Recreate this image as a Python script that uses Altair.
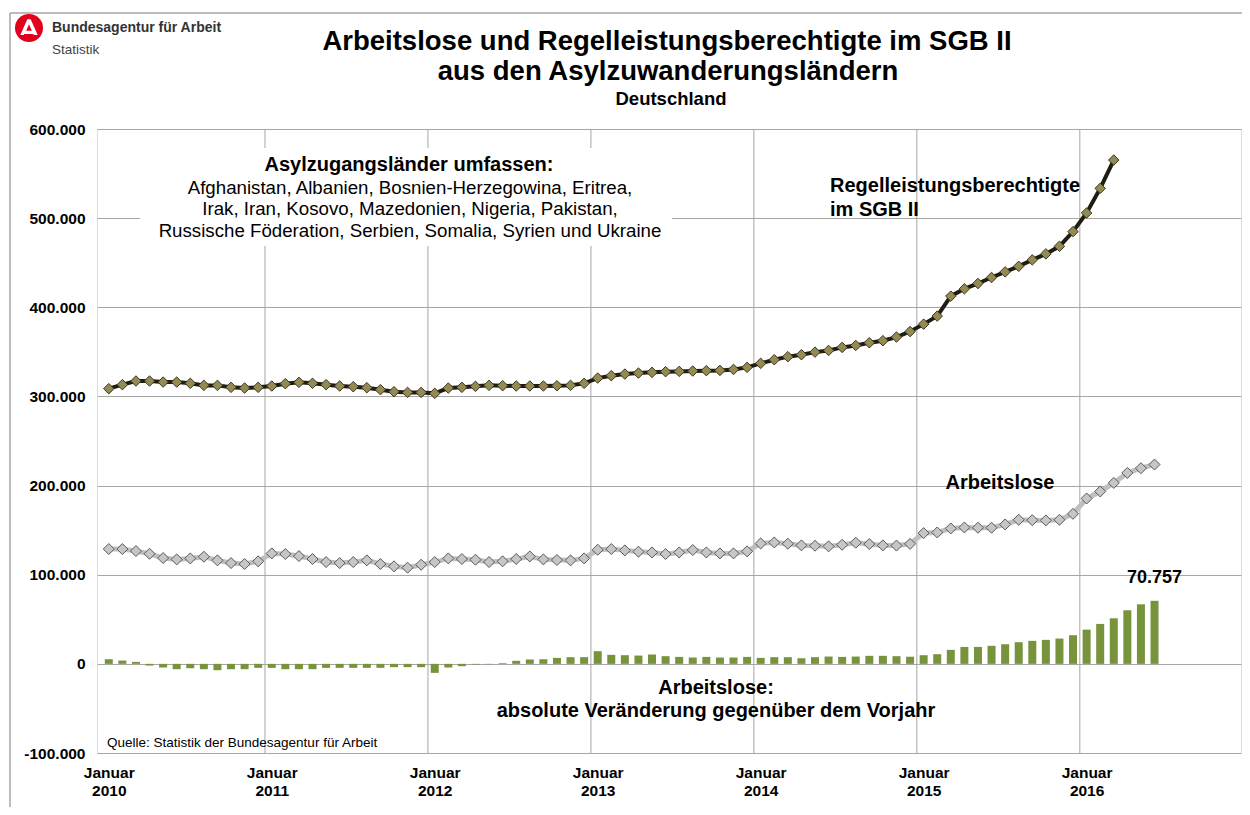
import altair as alt
import pandas as pd

FONT = "Liberation Sans"

# ---------------- data (values in thousands) ----------------
# month index 0 = Januar 2010 ... 77 = Juni 2016
regel_k = [
    308.7, 313.2, 317.3, 317.3, 316.1, 316.1, 314.7, 312.4, 312.4, 310.2, 309.4, 310.2,   # 2010
    311.7, 314.3, 315.8, 314.7, 313.2, 311.7, 310.9, 309.8, 307.6, 305.3, 304.5, 304.5,   # 2011
    303.5, 309.4, 310.2, 311.3, 312.4, 312.0, 311.7, 311.7, 311.7, 312.0, 312.4, 314.7,   # 2012
    320.6, 323.3, 325.1, 326.2, 327.0, 327.8, 328.1, 328.5, 328.9, 329.2, 330.3, 332.6,   # 2013
    337.1, 341.2, 344.6, 346.8, 349.7, 351.6, 355.0, 357.2, 360.2, 362.5, 366.6, 372.8,   # 2014
    381.1, 390.1, 412.5, 420.7, 426.7, 433.4, 439.7, 446.0, 453.2, 459.9, 468.4, 484.9,   # 2015
    505.8, 533.4, 565.2,                                                                  # 2016
]
arbeitslose_k = [
    128.8, 128.8, 126.5, 123.5, 118.7, 117.2, 118.3, 120.2, 116.1, 113.1, 112.0, 115.0,   # 2010
    123.9, 123.2, 120.9, 117.6, 114.2, 113.1, 114.2, 116.1, 112.0, 109.4, 107.9, 111.2,   # 2011
    114.2, 118.3, 117.6, 116.8, 114.2, 115.0, 117.6, 120.5, 117.2, 116.5, 116.1, 118.3,   # 2012
    128.0, 128.8, 127.3, 125.8, 125.0, 123.2, 125.0, 127.7, 125.0, 123.9, 123.9, 126.2,   # 2013
    135.1, 136.2, 134.8, 132.9, 132.5, 131.8, 133.6, 135.9, 134.4, 132.9, 132.7, 134.6,   # 2014
    146.7, 147.4, 151.9, 153.0, 152.7, 152.7, 156.4, 161.6, 161.2, 160.9, 161.6, 168.3,   # 2015
    185.5, 193.4, 203.0, 214.2, 219.5, 223.6,                                             # 2016
]
veraenderung_k = [
    5.2, 3.7, 2.2, -1.9, -4.1, -6.0, -4.9, -6.0, -7.1, -6.0, -6.0, -4.5,                  # 2010
    -4.5, -6.0, -6.0, -6.0, -4.5, -4.5, -4.5, -4.5, -4.5, -3.7, -3.7, -3.7,               # 2011
    -10.1, -4.1, -2.6, -0.7, -0.4, 0.8, 3.4, 4.9, 5.2, 6.7, 7.5, 7.5,                     # 2012
    14.2, 10.1, 9.7, 9.3, 10.5, 8.6, 7.8, 7.1, 7.8, 7.1, 7.1, 7.8,                        # 2013
    6.7, 7.5, 7.5, 6.3, 7.5, 8.2, 7.8, 8.2, 9.0, 9.0, 8.6, 8.0,                           # 2014
    9.7, 10.8, 15.7, 19.0, 19.0, 20.2, 22.0, 24.3, 25.8, 26.9, 28.4, 32.1,                # 2015
    38.4, 44.8, 51.1, 60.1, 66.8, 70.757,                                                 # 2016
]

y_ticks = [-100000, 0, 100000, 200000, 300000, 400000, 500000, 600000]
x_label_months = [0, 12, 24, 36, 48, 60, 72]          # Januar of each year
year_boundaries = [11.5, 23.5, 35.5, 47.5, 59.5, 71.5]  # category borders (gridlines)

title_lines = ["Arbeitslose und Regelleistungsberechtigte im SGB II",
               "aus den Asylzuwanderungsländern"]
subtitle = "Deutschland"
box_lines = ["Afghanistan, Albanien, Bosnien-Herzegowina, Eritrea,",
             "Irak, Iran, Kosovo, Mazedonien, Nigeria, Pakistan,",
             "Russische Föderation, Serbien, Somalia, Syrien und Ukraine"]

# ---------------- tables ----------------
df_regel = pd.DataFrame({"m": range(len(regel_k)), "v": [v * 1000 for v in regel_k]})
df_al = pd.DataFrame({"m": range(len(arbeitslose_k)), "v": [v * 1000 for v in arbeitslose_k]})
df_bar = pd.DataFrame({"m": range(len(veraenderung_k)), "v": [v * 1000 for v in veraenderung_k]})
last_v = veraenderung_k[-1] * 1000
df_last = pd.DataFrame({"m": [len(veraenderung_k) - 1], "v": [last_v],
                        "t": [f"{int(round(last_v)):,}".replace(",", ".")]})
df_bounds = pd.DataFrame({"m": year_boundaries, "v": [0] * len(year_boundaries)})

xscale = alt.Scale(domain=[-0.5, 83.0], nice=False, zero=False)
yscale = alt.Scale(domain=[-100000, 600000], nice=False, zero=False)

x_axis = alt.Axis(values=x_label_months, grid=False, ticks=False, domain=False, title=None,
                  labelExpr="['Januar', '' + (2010 + datum.value / 12)]",
                  labelFont=FONT, labelFontSize=15.5, labelFontWeight="bold", labelColor="black",
                  labelLineHeight=18, labelPadding=12, labelOverlap=False, labelFlush=False,
                  labelBound=False)
y_axis = alt.Axis(values=y_ticks, grid=True, gridColor="#a6a6a6", gridWidth=1, ticks=False,
                  domain=False, title=None,
                  labelExpr="(datum.value < 0 ? '-' : '') + replace(format(abs(datum.value), ','), regexp(',', 'g'), '.')",
                  labelFont=FONT, labelFontSize=15.5, labelFontWeight="bold", labelColor="black",
                  labelPadding=12, labelFlush=False, labelOverlap=False)


def xq():
    return alt.X("m:Q", scale=xscale, axis=x_axis)


def yq():
    return alt.Y("v:Q", scale=yscale, axis=y_axis)


def one():
    return pd.DataFrame({"k": [0]})


def txt(text, x, y, size, weight="bold", align="center", color="black"):
    return alt.Chart(pd.DataFrame({"t": [text]})).mark_text(
        font=FONT, fontSize=size, fontWeight=weight, align=align, baseline="middle", color=color
    ).encode(text="t:N", x=alt.value(x), y=alt.value(y))


bars = alt.Chart(df_bar).mark_bar(color="#77933C", size=8).encode(x=xq(), y=yq())

# vertical gridlines at year borders (full height rules)
vgrid = alt.Chart(df_bounds).mark_rule(color="#a6a6a6", strokeWidth=1).encode(
    x=xq(), y=alt.value(0), y2=alt.value(624))

# white background box behind country list
box = alt.Chart(one()).mark_rect(fill="white").encode(
    x=alt.value(43), x2=alt.value(575), y=alt.value(19), y2=alt.value(117))

al_line = alt.Chart(df_al).mark_line(color="#bfbfbf", strokeWidth=5).encode(x=xq(), y=yq())
al_pts = alt.Chart(df_al).mark_point(shape="diamond", filled=True, fill="#c6c6c6", stroke="#5a5a5a",
                                     strokeWidth=1, size=121, opacity=1).encode(x=xq(), y=yq())

rg_line = alt.Chart(df_regel).mark_line(color="#1f1c12", strokeWidth=4).encode(x=xq(), y=yq())
rg_pts = alt.Chart(df_regel).mark_point(shape="diamond", filled=True, fill="#948a54", stroke="#3b361f",
                                        strokeWidth=1, size=110, opacity=1).encode(x=xq(), y=yq())

last_label = alt.Chart(df_last).mark_text(font=FONT, fontSize=18, fontWeight="bold", dy=-23,
                                          color="black").encode(x=xq(), y=yq(), text="t:N")

# outer frame and logo
frame_top = alt.Chart(one()).mark_rule(color="#a6a6a6", strokeWidth=1.5).encode(
    x=alt.value(-87), x2=alt.value(1160), y=alt.value(-116))
frame_left = alt.Chart(one()).mark_rule(color="#a6a6a6", strokeWidth=1.5).encode(
    x=alt.value(-87), y=alt.value(-116), y2=alt.value(700))
logo_circle = alt.Chart(one()).mark_point(shape="circle", filled=True, fill="#e2001a", opacity=1,
                                          size=784, strokeWidth=0).encode(
    x=alt.value(-68), y=alt.value(-101))
logo_a = alt.Chart(one()).mark_point(
    shape="M-0.62,0.5 L-0.12,-0.62 L0.12,-0.62 L0.62,0.5 L0.34,0.5 L0.0,-0.27 L-0.2,0.2 L0.22,0.2 L0.32,0.42 L-0.34,0.42 L-0.38,0.5 Z",
    filled=True, fill="white", opacity=1, size=784, strokeWidth=0).encode(
    x=alt.value(-68), y=alt.value(-101))

texts = [
    txt("Bundesagentur für Arbeit", -45, -101, 14, align="left", color="#333333"),
    txt("Statistik", -45, -79, 13.5, weight="normal", align="left", color="#444444"),
    txt(title_lines[0], 570, -87, 27.5),
    txt(title_lines[1], 571, -57, 27.5),
    txt(subtitle, 574, -30, 18.5),
    txt("Asylzugangsländer umfassen:", 312, 36, 20),
    txt(box_lines[0], 313, 59, 18.7, weight="normal"),
    txt(box_lines[1], 313, 80, 18.7, weight="normal"),
    txt(box_lines[2], 313, 102, 18.7, weight="normal"),
    txt("Regelleistungsberechtigte", 733, 57, 20, align="left"),
    txt("im SGB II", 733, 81, 20, align="left"),
    txt("Arbeitslose", 903, 354, 20),
    txt("Arbeitslose:", 619, 559, 20),
    txt("absolute Veränderung gegenüber dem Vorjahr", 619, 582, 20),
    txt("Quelle: Statistik der Bundesagentur für Arbeit", 10, 614, 13.5, weight="normal", align="left"),
]

chart = alt.layer(
    bars, vgrid, box, al_line, al_pts, rg_line, rg_pts, last_label,
    frame_top, frame_left, logo_circle, logo_a, *texts
).properties(
    width=1144, height=624,
    autosize=alt.AutoSizeParams(type="none"),
    padding={"left": 89, "top": 121, "right": 1, "bottom": 54},
).configure_view(stroke="#9a9a9a", strokeWidth=1).configure(font=FONT, background="white")

chart.save("out.html", embed_options={"renderer": "svg", "actions": False})
